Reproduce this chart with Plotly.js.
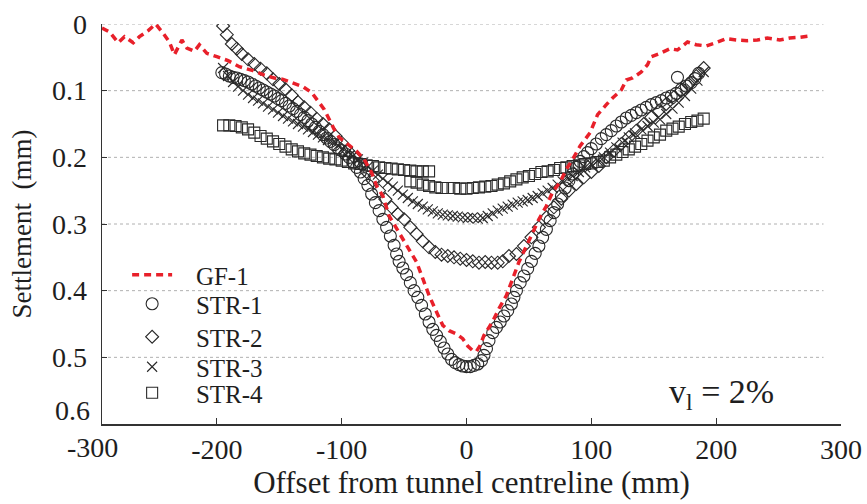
<!DOCTYPE html>
<html>
<head>
<meta charset="utf-8">
<script src="https://cdn.plot.ly/plotly-3.0.1.min.js"></script>
<style>html,body{margin:0;padding:0;background:#fff;}#chart{width:867px;height:504px;}</style>
</head>
<body>
<div id="chart"></div>
<script>
// ---- data ----
const gfX = [-292,-286,-279,-274,-267,-262,-255,-249,-243,-238,-234,-228,-224,-218,-214,-208,-200,-191,-182,-171,-163,-154,-147,-139,-131,-124,-119,-114,-110,-106,-102,-95,-88,-82,-76,-72,-67,-62,-56,-48,-40,-35,-30,-24,-19,-14,-8,-3,1,5,8,11,14,18,21,26,32,37,42,48,53,58,64,69,75,80,85,91,99,105,112,117,124,128,133,140,145,148,155,163,169,177,184,192,200,208,216,225,233,241,251,259,267,275];
const gfY = [0.006,0.012,0.028,0.019,0.028,0.019,0.010,0.000,0.014,0.027,0.046,0.024,0.036,0.041,0.031,0.044,0.049,0.055,0.064,0.070,0.076,0.081,0.083,0.088,0.094,0.103,0.116,0.128,0.143,0.158,0.170,0.181,0.191,0.203,0.223,0.243,0.258,0.288,0.307,0.333,0.357,0.382,0.407,0.432,0.452,0.460,0.465,0.472,0.483,0.490,0.491,0.482,0.467,0.455,0.446,0.427,0.407,0.382,0.357,0.333,0.312,0.293,0.273,0.252,0.237,0.218,0.203,0.183,0.163,0.136,0.121,0.111,0.099,0.084,0.081,0.072,0.061,0.049,0.044,0.037,0.039,0.027,0.031,0.033,0.028,0.022,0.024,0.025,0.024,0.021,0.024,0.021,0.020,0.018];

const s1X = [-196,-193,-190,-187,-184,-181,-178,-175,-172,-169,-166,-163,-160,-157,-154,-151,-148,-145,-142,-139,-136,-133,-130,-127,-124,-121,-118,-115,-112,-109,-106,-103,-100,-97,-94,-91,-88,-85,-82,-79,-76,-73,-70,-67,-64,-61,-58,-56,-54,-51,-48,-45,-42,-39,-36,-33,-30,-27,-24,-21,-18,-15,-12,-9,-6,-3,0,3,6,9,12,14,16,18,21,24,27,30,33,36,38,40,43,46,49,52,55,58,61,64,67,70,73,76,79,82,85,88,91,94,97,100,104,108,112,116,120,124,128,132,136,140,144,148,152,156,160,164,168,172,176,180,183,186,169];
const s1Y = [0.073,0.075,0.078,0.080,0.081,0.083,0.085,0.087,0.090,0.093,0.096,0.099,0.102,0.105,0.108,0.112,0.115,0.119,0.123,0.127,0.131,0.136,0.140,0.145,0.150,0.155,0.161,0.166,0.171,0.176,0.181,0.186,0.190,0.195,0.200,0.207,0.215,0.222,0.232,0.242,0.255,0.268,0.280,0.293,0.305,0.318,0.332,0.345,0.356,0.366,0.376,0.388,0.400,0.410,0.422,0.435,0.447,0.458,0.467,0.476,0.486,0.495,0.503,0.508,0.511,0.513,0.514,0.514,0.512,0.510,0.505,0.497,0.487,0.475,0.463,0.455,0.447,0.438,0.430,0.420,0.410,0.400,0.388,0.378,0.367,0.356,0.344,0.333,0.320,0.308,0.295,0.283,0.270,0.258,0.246,0.235,0.225,0.215,0.206,0.199,0.193,0.187,0.180,0.172,0.166,0.160,0.153,0.147,0.141,0.137,0.133,0.129,0.125,0.121,0.118,0.115,0.111,0.108,0.104,0.098,0.093,0.088,0.082,0.074,0.080];

const s2X = [-195,-192,-188,-184,-180,-175,-170,-165,-160,-155,-150,-145,-140,-135,-130,-125,-120,-115,-110,-105,-100,-95,-90,-85,-80,-75,-70,-65,-60,-55,-50,-45,-40,-35,-30,-25,-20,-15,-10,-5,0,5,10,15,20,25,29,34,40,46,52,58,64,70,76,82,88,94,100,106,112,118,124,130,136,142,148,154,160,166,172,178,184,190];
const s2Y = [0.003,0.016,0.030,0.037,0.045,0.053,0.060,0.067,0.074,0.083,0.090,0.098,0.107,0.117,0.125,0.133,0.142,0.150,0.158,0.168,0.178,0.190,0.200,0.210,0.222,0.235,0.250,0.263,0.275,0.285,0.293,0.305,0.315,0.326,0.335,0.342,0.346,0.348,0.350,0.352,0.354,0.356,0.358,0.357,0.358,0.358,0.356,0.348,0.345,0.333,0.320,0.305,0.290,0.275,0.262,0.250,0.240,0.230,0.222,0.213,0.200,0.190,0.180,0.170,0.160,0.150,0.140,0.130,0.120,0.110,0.100,0.090,0.078,0.066];

const s3X = [-195,-191,-187,-183,-179,-175,-171,-167,-163,-159,-155,-151,-147,-143,-139,-135,-131,-127,-123,-119,-115,-111,-107,-103,-99,-95,-91,-87,-83,-79,-75,-71,-67,-63,-59,-55,-51,-47,-43,-39,-35,-31,-27,-23,-19,-15,-11,-7,-3,1,5,9,13,17,21,25,29,33,37,41,45,49,53,57,61,65,69,73,77,81,85,90,95,100,105,110,115,120,125,130,135,140,145,150,155,160,165,170,175,180,185,190];
const s3Y = [0.066,0.078,0.087,0.094,0.100,0.106,0.111,0.115,0.119,0.124,0.128,0.133,0.138,0.142,0.146,0.150,0.154,0.158,0.162,0.166,0.170,0.174,0.178,0.182,0.187,0.192,0.198,0.203,0.208,0.214,0.220,0.226,0.232,0.238,0.244,0.250,0.256,0.261,0.266,0.270,0.274,0.278,0.281,0.284,0.286,0.287,0.288,0.289,0.290,0.291,0.290,0.292,0.291,0.288,0.284,0.280,0.277,0.274,0.271,0.268,0.266,0.264,0.261,0.258,0.254,0.250,0.246,0.241,0.236,0.232,0.228,0.222,0.215,0.210,0.205,0.200,0.193,0.185,0.178,0.170,0.164,0.158,0.153,0.148,0.143,0.135,0.127,0.118,0.108,0.097,0.085,0.072];

const s4X = [-195,-190,-185,-180,-175,-170,-165,-160,-155,-150,-145,-140,-135,-130,-125,-120,-115,-110,-105,-100,-95,-90,-85,-80,-75,-70,-65,-60,-55,-50,-45,-40,-35,-30,-45,-40,-35,-30,-25,-20,-15,-10,-5,0,5,10,15,20,25,30,35,40,45,50,55,60,65,70,75,80,85,90,95,100,105,110,115,120,125,130,135,140,145,150,155,160,165,170,175,180,185,190];
const s4Y = [0.152,0.152,0.153,0.155,0.158,0.163,0.168,0.172,0.176,0.180,0.184,0.188,0.191,0.194,0.196,0.198,0.200,0.202,0.203,0.205,0.207,0.209,0.210,0.212,0.213,0.215,0.216,0.217,0.218,0.219,0.220,0.221,0.221,0.221,0.236,0.238,0.241,0.243,0.245,0.246,0.246,0.246,0.247,0.247,0.246,0.245,0.244,0.243,0.241,0.239,0.236,0.233,0.230,0.228,0.225,0.222,0.221,0.219,0.216,0.215,0.213,0.212,0.210,0.209,0.207,0.205,0.200,0.196,0.192,0.188,0.184,0.180,0.175,0.170,0.166,0.160,0.157,0.154,0.150,0.147,0.145,0.142];

const seriesNames = ['GF-1','STR-1','STR-2','STR-3','STR-4'];
const yTicks = [0,0.1,0.2,0.3,0.4,0.5,0.6];
const yTickText = ['0','0.1','0.2','0.3','0.4','0.5',''];
const yLastLabel = '0.6';
const xTicks = [-200,-100,0,100,200,300];
const xTickText = ['-200','-100','0','100','200','300'];
const xFirstLabel = '-300';
const gridVals = [0,0.1,0.2,0.3,0.4,0.5];

const XR = [-292, 300];
const FONT = "'Liberation Serif', 'Times New Roman', serif";
const ink = '#1e1e1e';
const NB = '\u00a0\u00a0\u00a0';
const mk = (sym, size) => ({symbol: sym, size: size, color: '#2a2a2a', line: {color: '#2a2a2a', width: 1.1}});

const traces = [
  {x: s1X, y: s1Y, name: NB + seriesNames[1], mode: 'markers', type: 'scatter', marker: mk('circle-open', 12), legend: 'legend2'},
  {x: s2X, y: s2Y, name: NB + seriesNames[2], mode: 'markers', type: 'scatter', marker: mk('diamond-open', 10), legend: 'legend3'},
  {x: s3X, y: s3Y, name: NB + seriesNames[3], mode: 'markers', type: 'scatter', marker: mk('x-thin-open', 10), legend: 'legend4'},
  {x: s4X, y: s4Y, name: NB + seriesNames[4], mode: 'markers', type: 'scatter', marker: mk('square-open', 11), legend: 'legend5'},
  {x: gfX, y: gfY, name: NB + seriesNames[0], mode: 'lines', type: 'scatter', line: {color: '#e8202a', width: 3.5, dash: '7px,5px'}, legend: 'legend'}
];

const shapes = gridVals.map(v => ({type: 'line', xref: 'x', yref: 'y', x0: -292, x1: 286, y0: v, y1: v, line: {color: '#b0b0b0', width: 1, dash: 'dot'}, layer: 'below'}));

// legend rows: centre pixel y of each entry (plot area 24..424)
const legRowsPx = [275, 304, 337, 367, 393];
const legY = legRowsPx.map(p => 1 - (p - 24) / 400);
const legBase = {x: 0.034, xanchor: 'left', yanchor: 'middle', bgcolor: 'rgba(0,0,0,0)', font: {size: 25, family: FONT, color: ink}, itemwidth: 40};

const layout = {
  width: 867, height: 504,
  margin: {l: 102, r: 26, t: 24, b: 80},
  paper_bgcolor: '#fff', plot_bgcolor: '#fff',
  font: {family: FONT, color: ink, size: 28},
  showlegend: true,
  legend: Object.assign({}, legBase, {y: legY[0]}),
  legend2: Object.assign({}, legBase, {y: legY[1]}),
  legend3: Object.assign({}, legBase, {y: legY[2]}),
  legend4: Object.assign({}, legBase, {y: legY[3]}),
  legend5: Object.assign({}, legBase, {y: legY[4]}),
  xaxis: {range: XR, tickvals: xTicks, ticktext: xTickText, ticks: 'inside', ticklen: 6, tickcolor: '#333',
    showline: true, linecolor: '#333', linewidth: 1.5, showgrid: false, zeroline: false, mirror: false,
    tickfont: {size: 28, family: FONT}, ticklabelstandoff: 0,
    title: {text: '\u00a0\u00a0\u00a0\u00a0Offset from tunnel centreline (mm)', font: {size: 31, family: FONT}, standoff: 4}},
  yaxis: {range: [0.6, 0], tickvals: yTicks, ticktext: yTickText, ticks: 'inside', ticklen: 5, tickcolor: '#333',
    showline: true, linecolor: '#333', linewidth: 1.5, showgrid: false, zeroline: false,
    tickfont: {size: 28, family: FONT}, ticklabelstandoff: 8,
    title: {text: 'Settlement  (mm)', font: {size: 27, family: FONT}, standoff: 12}},
  shapes: shapes,
  annotations: [
    {xref: 'paper', yref: 'paper', x: (-300 - XR[0]) / (XR[1] - XR[0]), y: 0, text: xFirstLabel, showarrow: false, xanchor: 'center', yanchor: 'top', yshift: -6, font: {size: 28, family: FONT}},
    {xref: 'paper', yref: 'paper', x: 0, y: 0, text: yLastLabel, showarrow: false, xanchor: 'right', yanchor: 'middle', xshift: -10, yshift: 14, font: {size: 28, family: FONT}},
    {xref: 'x', yref: 'y', x: 204, y: 0.555, text: 'v<sub>l</sub> = 2%', showarrow: false, xanchor: 'center', yanchor: 'middle', font: {size: 34, family: FONT}}
  ]
};

Plotly.newPlot('chart', traces, layout, {staticPlot: true, displayModeBar: false});
</script>
</body>
</html>
